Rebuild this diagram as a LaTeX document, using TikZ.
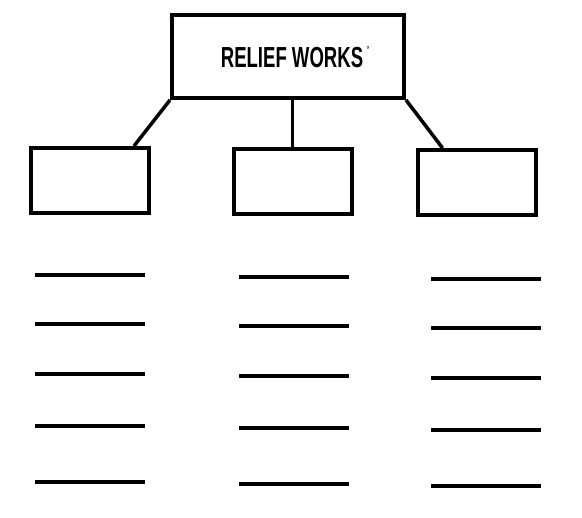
\documentclass[tikz,border=0pt]{standalone}
\usepackage{fontspec}
\setmainfont{Liberation Sans}
\usepackage{graphicx}
\usetikzlibrary{positioning,calc}

\begin{document}
\begin{tikzpicture}[x=1pt, y=-1pt,
    headbox/.style={draw, line width=4pt, minimum width=232pt, minimum height=83pt, inner sep=0pt},
    workbox/.style={draw, line width=4pt, minimum width=118pt, minimum height=65pt, inner sep=0pt},
    link/.style={line width=3.5pt},
    blank/.style={line width=4.5pt}]
    \useasboundingbox (0,0) rectangle (582,518);
    % heading
    \node[headbox] (relief) at (288,56.5) {};
    \node (title) at (292,58) {\scalebox{0.64}[1]{\fontsize{29}{30}\selectfont\bfseries RELIEF WORKS}};
    \node[font=\fontsize{13}{13}\selectfont, inner sep=0pt] (tick) at (368,51) {'};
    % three boxes
    \node[workbox] (aid1) at (90,180.5) {};
    \node[workbox] (aid2) at (292.5,181.5) {};
    \node[workbox] (aid3) at (476.5,182.5) {};
    \draw[link] (relief.south west) -- ([xshift=-17pt]aid1.north east);
    \draw[link] (aid2.north |- relief.south) -- (aid2.north);
    \draw[link] (relief.south east) -- ([xshift=27pt]aid3.north west);
    % blank lines to fill in
    \foreach \xa/\dy in {35/0, 239/2, 431/4}
      \foreach \y in {275,324,374,426,482}
        \draw[blank] (\xa,\y+\dy) -- ++(110,0);
\end{tikzpicture}
\end{document}
